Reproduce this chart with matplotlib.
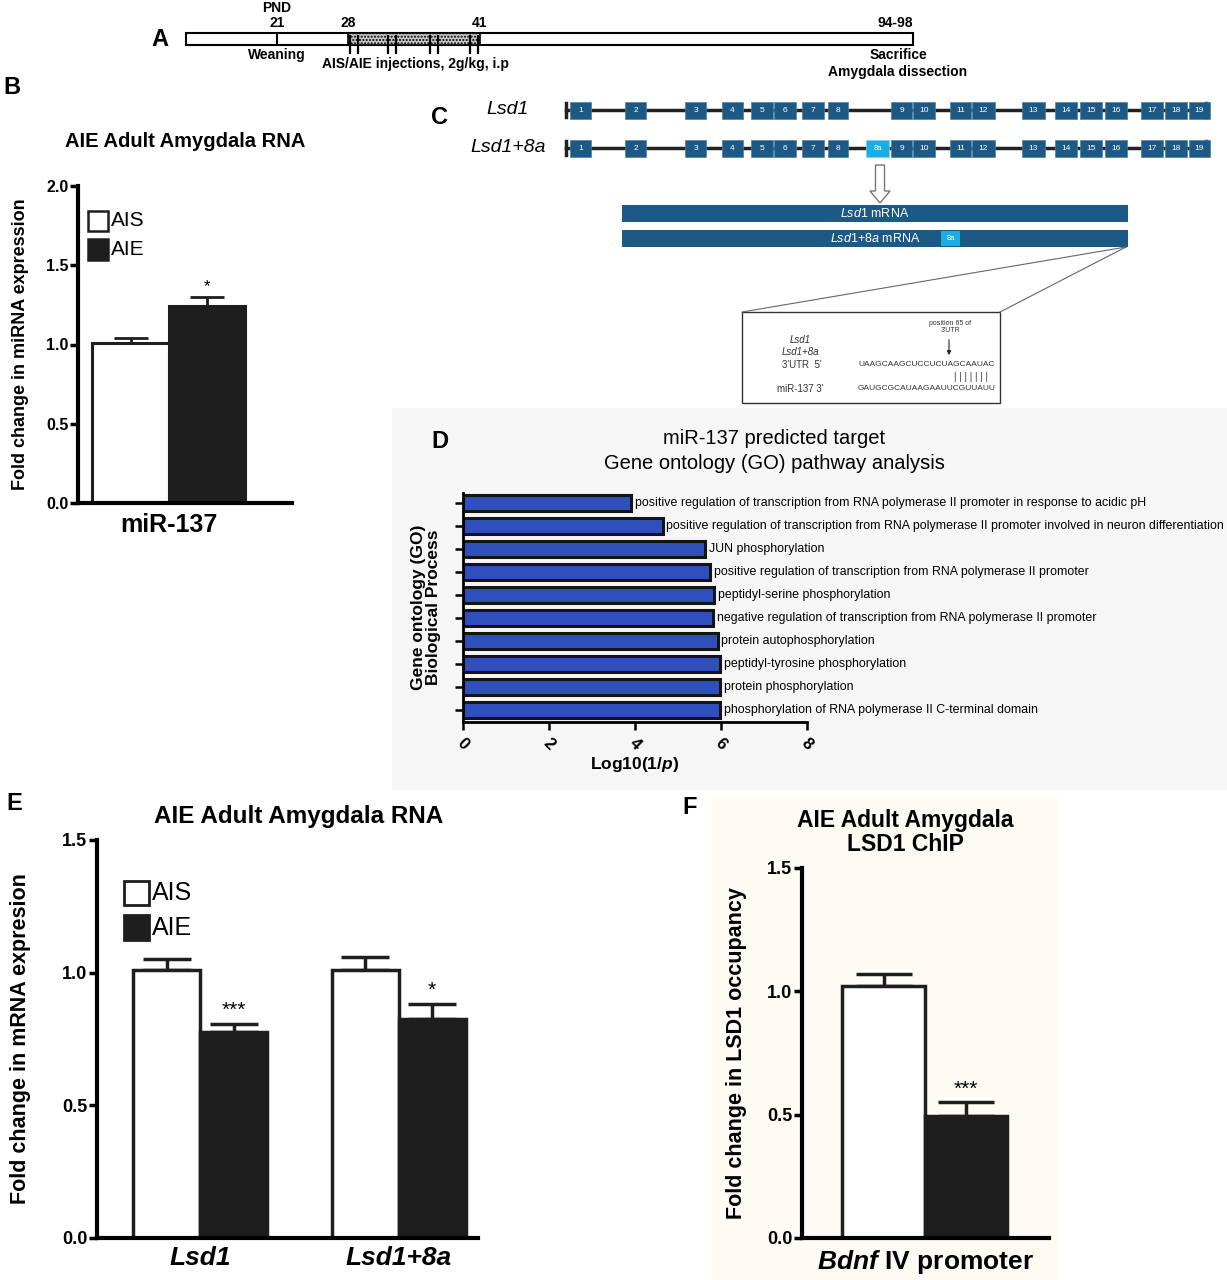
import matplotlib
matplotlib.use("Agg")
import matplotlib.pyplot as plt
from matplotlib.patches import Rectangle, FancyArrow
import numpy as np

plt.rcParams['font.family'] = ['Liberation Sans', 'DejaVu Sans']
plt.rcParams['mathtext.fontset'] = 'custom'
plt.rcParams['mathtext.rm'] = 'Liberation Sans'
plt.rcParams['mathtext.it'] = 'Liberation Sans:italic'
plt.rcParams['mathtext.bf'] = 'Liberation Sans:bold'
plt.rcParams['mathtext.bfit'] = 'Liberation Sans:italic:bold'
NARROW = ['Liberation Sans Narrow', 'Liberation Sans', 'DejaVu Sans']

W, H = 1227, 1280

# ---- data ----
# panel B: miR-137
b_groups = ["AIS", "AIE"]
b_mean = [1.01, 1.24]
b_sem = [0.03, 0.06]
b_star = ["", "*"]

# panel D: GO analysis, log10(1/p)
go_terms = [
    "positive regulation of transcription from RNA polymerase II promoter in response to acidic pH",
    "positive regulation of transcription from RNA polymerase II promoter involved in neuron differentiation",
    "JUN phosphorylation",
    "positive regulation of transcription from RNA polymerase II promoter",
    "peptidyl-serine phosphorylation",
    "negative regulation of transcription from RNA polymerase II promoter",
    "protein autophosphorylation",
    "peptidyl-tyrosine phosphorylation",
    "protein phosphorylation",
    "phosphorylation of RNA polymerase II C-terminal domain",
]
go_values = [3.91, 4.64, 5.62, 5.75, 5.83, 5.82, 5.92, 5.97, 5.97, 5.97]

# panel E: mRNA
e_genes = ["Lsd1", "Lsd1+8a"]
e_ais_mean = [1.01, 1.01]
e_ais_sem = [0.04, 0.05]
e_aie_mean = [0.777, 0.826]
e_aie_sem = [0.03, 0.055]
e_stars = ["***", "*"]

# panel F: ChIP
f_mean = [1.02, 0.495]
f_sem = [0.05, 0.055]
f_star = ["", "***"]

# panel A timeline labels
pnd_labels = ["21", "28", "41", "94-98"]

# panel C exons
exon_names = [str(i) for i in range(1, 20)]


def box(x0, y0, x1, y1):
    return [x0 / W, 1 - y1 / H, (x1 - x0) / W, (y1 - y0) / H]


def style_bar_axes(ax, ymax, step):
    for s in ["top", "right"]:
        ax.spines[s].set_visible(False)
    for s in ["left", "bottom"]:
        ax.spines[s].set_linewidth(3)
    ax.set_ylim(0, ymax)
    ax.set_yticks(np.arange(0, ymax + 0.01, step))
    ax.set_yticklabels([f"{v:.1f}" for v in np.arange(0, ymax + 0.01, step)],
                       fontweight="bold")
    ax.tick_params(axis="y", direction="out", length=6, width=2.5, pad=1)
    ax.set_xticks([])
    ax.patch.set_alpha(0)


fig = plt.figure(figsize=(W / 100, H / 100), dpi=100)

# overlay axes in pixel coordinates for schematics
ov = fig.add_axes([0, 0, 1, 1])
ov.set_xlim(0, W)
ov.set_ylim(H, 0)
ov.axis("off")
ov.set_zorder(-1)

# backgrounds
ov.add_patch(Rectangle((392, 408), W - 392, 382, facecolor="#f6f6f6", edgecolor="none"))
ov.add_patch(Rectangle((712, 797), 346, 483, facecolor="#fdfbf4", edgecolor="none"))

# panel letters
for lab, x, y in [("A", 160, 40), ("B", 12, 88), ("C", 440, 117),
                  ("D", 440, 441), ("E", 14, 803), ("F", 690, 808)]:
    ov.text(x, y, lab, fontsize=17, fontweight="bold", ha="center", va="center")

# ---- panel A ----
ov.add_patch(Rectangle((186, 33), 727, 12, facecolor="white", edgecolor="black", lw=1.5))
ov.add_patch(Rectangle((348, 33), 132, 12, facecolor="#c8c8c8", edgecolor="black",
                       lw=1.2, hatch="....."))
ov.plot([277, 277], [33, 45], color="black", lw=1.5)
for xt in [350, 358, 388, 396, 430, 438, 470, 478]:
    ov.plot([xt, xt], [36, 53], color="black", lw=1.6)
ov.text(277, 8, "PND", fontsize=10, fontweight="bold", family=NARROW, ha="center", va="center")
for lab, x in zip(pnd_labels, [277, 348, 480, 895]):
    ov.text(x, 23, lab, fontsize=10, fontweight="bold", family=NARROW, ha="center", va="center")
ov.text(277, 55, "Weaning", fontsize=10, fontweight="bold", family=NARROW, ha="center", va="center")
ov.text(415, 64, "AIS/AIE injections, 2g/kg, i.p", fontsize=10, fontweight="bold",
        family=NARROW, ha="center", va="center")
ov.text(898, 55, "Sacrifice", fontsize=10, fontweight="bold", family=NARROW, ha="center", va="center")
ov.text(898, 72, "Amygdala dissection", fontsize=10, fontweight="bold", family=NARROW,
        ha="center", va="center")

# ---- panel C ----
exon_blue = "#1d5985"
exon_light = "#1aaee6"
exon_left = [570, 625, 685, 722, 751, 774, 802, 828, 891, 913, 950, 972,
             1022, 1055, 1080, 1105, 1141, 1165, 1189]
exon_right = [591, 646, 706, 743, 773, 796, 824, 848, 912, 935, 971, 995,
              1045, 1077, 1102, 1127, 1163, 1187, 1210]
for row_y, name, with8a in [(110, "Lsd1", False), (148, "Lsd1+8a", True)]:
    ov.text(508, row_y, name, fontsize=14, style="italic", ha="center", va="center")
    ov.plot([566, 1206], [row_y, row_y], color="#222222", lw=2.5, zorder=1)
    ov.plot([566, 566], [row_y - 7, row_y + 7], color="#222222", lw=2.5)
    ov.plot([1206, 1206], [row_y - 7, row_y + 7], color="#222222", lw=2.5)
    for nm, l, r in zip(exon_names, exon_left, exon_right):
        ov.add_patch(Rectangle((l, row_y - 8.5), r - l, 17, facecolor=exon_blue,
                               edgecolor="#4a7ea6", lw=0.5, zorder=2))
        ov.text((l + r) / 2, row_y, nm, fontsize=6, color="white", ha="center",
                va="center", zorder=3)
    if with8a:
        ov.add_patch(Rectangle((866, row_y - 8.5), 23, 17, facecolor=exon_light,
                               edgecolor="#7fd0f0", lw=0.5, zorder=2))
        ov.text(877.5, row_y, "8a", fontsize=5.5, color="white", ha="center",
                va="center", zorder=3)

ov.add_patch(FancyArrow(880, 165, 0, 26, width=9, head_width=20, head_length=12,
                        length_includes_head=False, facecolor="white",
                        edgecolor="#777777", lw=1))
ov.add_patch(Rectangle((622, 205), 506, 17, facecolor=exon_blue, edgecolor="none"))
ov.add_patch(Rectangle((622, 230), 506, 17, facecolor=exon_blue, edgecolor="none"))
ov.text(875, 213.5, r"$\it{Lsd1}$ mRNA", fontsize=9, color="white", ha="center", va="center")
ov.text(875, 238.5, r"$\it{Lsd1}$$\it{+8a}$ mRNA", fontsize=9, color="white",
        ha="center", va="center")
ov.add_patch(Rectangle((941, 231), 19, 15, facecolor=exon_light, edgecolor="none"))
ov.text(950.5, 238.5, "8a", fontsize=5.5, color="white", ha="center", va="center")

ov.plot([1126, 742], [247, 312], color="#666666", lw=0.8)
ov.plot([1126, 1000], [247, 312], color="#666666", lw=0.8)
ov.add_patch(Rectangle((742, 312), 258, 91, facecolor="white", edgecolor="#333333", lw=1))
ov.text(950, 327, "position 65 of\n3'UTR", fontsize=5, color="#333333", ha="center",
        va="center", linespacing=1.1)
ov.annotate("", xy=(949, 358), xytext=(949, 337),
            arrowprops=dict(arrowstyle="-|>", color="#222222", lw=0.8, mutation_scale=6))
ov.text(800, 340, "Lsd1", fontsize=7, style="italic", color="#333333", ha="center", va="center")
ov.text(800, 352, "Lsd1+8a", fontsize=7, style="italic", color="#333333", ha="center", va="center")
ov.text(802, 365, "3'UTR  5'", fontsize=7, color="#333333", ha="center", va="center")
ov.text(800, 389, "miR-137 3'", fontsize=7, color="#333333", ha="center", va="center")
ov.text(927, 365, "UAAGCAAGCUCCUCUAGCAAUAC", fontsize=6, family=NARROW,
        color="#333333", ha="center", va="center")
ov.text(927, 389, "GAUGCGCAUAAGAAUUCGUUAUU", fontsize=6, family=NARROW,
        color="#333333", ha="center", va="center")
ov.text(971, 377, "| | | | | | |", fontsize=7, color="#333333", ha="center", va="center")

# ---- panel B ----
axB = fig.add_axes(box(78, 186, 292, 503))
style_bar_axes(axB, 2.0, 0.5)
axB.tick_params(axis="y", labelsize=11.5)
bx = np.arange(len(b_groups))
colors = ["white", "#1e1e1e"]
axB.bar(bx, b_mean, width=1.0, color=colors, edgecolor="#1e1e1e", lw=2.2, zorder=2)
axB.errorbar(bx, b_mean, yerr=[[0, 0], b_sem], fmt="none", ecolor="#1e1e1e",
             elinewidth=2, capsize=12, capthick=2, zorder=1)
for x, m, s, st in zip(bx, b_mean, b_sem, b_star):
    if st:
        axB.text(x, m + s + 0.02, st, fontsize=12, ha="center", va="bottom")
axB.set_xlim(-0.686, 2.11)
axB.set_ylabel("Fold change in miRNA expression", fontsize=13, fontweight="bold", labelpad=12)
axB.set_title("AIE Adult Amygdala RNA", fontsize=14.5, fontweight="bold", pad=28)
axB.text(0.5, -0.07, "miR-137", transform=axB.get_xaxis_transform(), fontsize=18,
         fontweight="bold", ha="center", va="center")
for i, (g, c) in enumerate(zip(b_groups, colors)):
    y = 1.78 - i * 0.18
    axB.add_patch(Rectangle((-0.55, y - 0.065), 0.26, 0.13, facecolor=c,
                            edgecolor="#1e1e1e", lw=1.8, clip_on=False))
    axB.text(-0.26, y, g, fontsize=15, ha="left", va="center")

# ---- panel D ----
axD = fig.add_axes(box(463, 493, 807, 722))
yD = np.arange(len(go_terms))
axD.barh(yD, go_values, height=0.68, color="#2f4fbd", edgecolor="#141414", lw=2.2)
axD.set_ylim(9.52, -0.42)
axD.set_xlim(0, 8)
axD.set_yticks(yD)
axD.set_yticklabels([])
axD.set_xticks([0, 2, 4, 6, 8])
axD.set_xticklabels(["0", "2", "4", "6", "8"], rotation=-45, fontsize=12,
                    fontweight="bold", ha="center")
axD.tick_params(axis="both", direction="out", length=6, width=1.8)
for s in ["top", "right"]:
    axD.spines[s].set_visible(False)
for s in ["left", "bottom"]:
    axD.spines[s].set_linewidth(2)
axD.patch.set_alpha(0)
for y, v, t in zip(yD, go_values, go_terms):
    axD.text(v + 0.09, y, t, fontsize=8.9, family=NARROW, ha="left", va="center",
             clip_on=False)
axD.set_xlabel(r"Log10(1/$\bfit{p}$)", fontsize=12.5, fontweight="bold", labelpad=2)
axD.set_ylabel("Gene ontology (GO)\nBiological Process", fontsize=12.5,
               fontweight="bold", labelpad=6, linespacing=1.0)
axD.set_title("miR-137 predicted target\nGene ontology (GO) pathway analysis",
              fontsize=14.5, pad=17, x=0.904, linespacing=1.45)

# ---- panel E ----
axE = fig.add_axes(box(97, 840, 478, 1238))
style_bar_axes(axE, 1.5, 0.5)
axE.tick_params(axis="y", labelsize=13)
ex = np.arange(len(e_genes))
wE = 0.3375
axE.bar(ex - wE / 2, e_ais_mean, width=wE, color="white", edgecolor="#1e1e1e", lw=2.5, zorder=2)
axE.bar(ex + wE / 2, e_aie_mean, width=wE, color="#1e1e1e", edgecolor="#1e1e1e", lw=2.5, zorder=2)
axE.errorbar(ex - wE / 2, e_ais_mean, yerr=[[0, 0], e_ais_sem], fmt="none",
             ecolor="#1e1e1e", elinewidth=2.5, capsize=17, capthick=2.5, zorder=1)
axE.errorbar(ex + wE / 2, e_aie_mean, yerr=[[0, 0], e_aie_sem], fmt="none",
             ecolor="#1e1e1e", elinewidth=2.5, capsize=17, capthick=2.5, zorder=1)
for x, m, s, st in zip(ex + wE / 2, e_aie_mean, e_aie_sem, e_stars):
    axE.text(x, m + s + 0.015, st, fontsize=15, ha="center", va="bottom")
axE.set_xlim(-0.519, 1.40)
axE.set_xticks(ex)
axE.set_xticklabels(e_genes, fontsize=19, fontweight="bold", style="italic")
axE.tick_params(axis="x", length=0, pad=6)
axE.set_ylabel("Fold change in mRNA expresion", fontsize=15.5, fontweight="bold", labelpad=22)
axE.set_title("AIE Adult Amygdala RNA", fontsize=17.5, fontweight="bold", pad=12, x=0.53)
for i, (g, c) in enumerate(zip(b_groups, colors)):
    y = 1.30 - i * 0.13
    axE.add_patch(Rectangle((-0.385, y - 0.046), 0.13, 0.093, facecolor=c,
                            edgecolor="#1e1e1e", lw=2, clip_on=False))
    axE.text(-0.24, y, g, fontsize=18, ha="left", va="center")

# ---- panel F ----
axF = fig.add_axes(box(802, 868, 1049, 1238))
style_bar_axes(axF, 1.5, 0.5)
axF.tick_params(axis="y", labelsize=13)
fx = np.arange(len(f_mean))
axF.bar(fx, f_mean, width=1.0, color=colors, edgecolor="#1e1e1e", lw=2.5, zorder=2)
axF.errorbar(fx, f_mean, yerr=[[0, 0], f_sem], fmt="none", ecolor="#1e1e1e",
             elinewidth=2.5, capsize=20, capthick=2.5, zorder=1)
for x, m, s, st in zip(fx, f_mean, f_sem, f_star):
    if st:
        axF.text(x, m + s + 0.015, st, fontsize=15, ha="center", va="bottom")
axF.set_xlim(-0.988, 2.006)
axF.set_ylabel("Fold change in LSD1 occupancy", fontsize=15.5, fontweight="bold", labelpad=14)
axF.set_title("AIE Adult Amygdala\nLSD1 ChIP", fontsize=16.5, fontweight="bold", pad=12,
              x=0.42, linespacing=1.1)
axF.text(0.5, -0.065, r"$\bfit{Bdnf}$ IV promoter", transform=axF.transAxes,
         fontsize=19, fontweight="bold", ha="center", va="center")

fig.savefig("out.png", dpi=100)
